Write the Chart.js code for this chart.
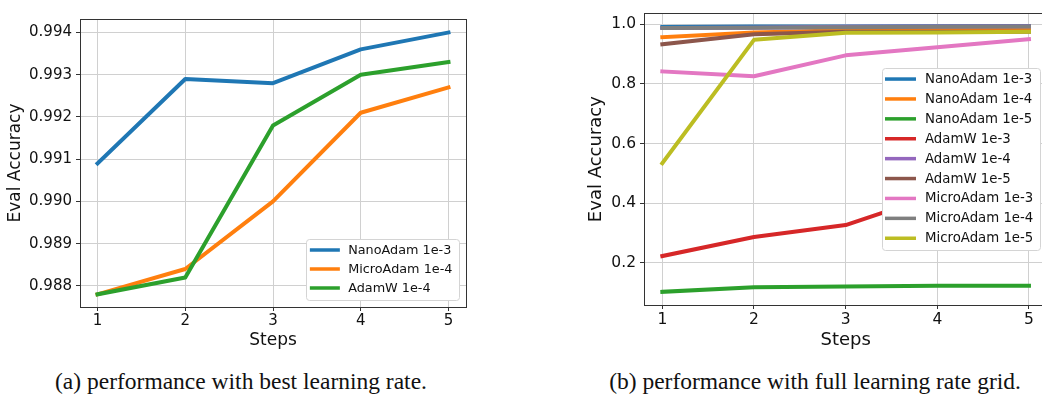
<!DOCTYPE html>
<html>
<head>
<meta charset="utf-8">
<script src="https://cdn.jsdelivr.net/npm/chart.js@4.4.1/dist/chart.umd.min.js"></script>
<style>
    html, body { margin: 0; padding: 0; background: #fff; }
    body { width: 1042px; height: 398px; overflow: hidden; position: relative; }
    canvas { position: absolute; top: 0; }
    #chartA { left: 0; }
    #chartB { left: 560px; }
    .caption {
        position: absolute; top: 370px; white-space: nowrap;
        font-family: "Liberation Serif", "Times New Roman", serif;
        font-size: 23.5px; line-height: 1; color: #111;
        transform: translateX(-50%);
    }
</style>
</head>
<body>
<canvas id="chartA" width="480" height="355"></canvas>
<canvas id="chartB" width="500" height="355"></canvas>
<div class="caption" style="left: 241px;">(a) performance with best learning rate.</div>
<div class="caption" style="left: 815px;">(b) performance with full learning rate grid.</div>
<script>
// data
var steps = [1, 2, 3, 4, 5];

// (a) best learning rate
var nanoBest  = [0.9909, 0.9929, 0.9928, 0.9936, 0.9940];
var microBest = [0.9878, 0.9884, 0.9900, 0.9921, 0.9927];
var adamwBest = [0.9878, 0.9882, 0.9918, 0.9930, 0.9933];
var ticksA = [0.988, 0.989, 0.990, 0.991, 0.992, 0.993, 0.994];

// (b) full grid
var nano1e3  = [0.9909, 0.9929, 0.9928, 0.9936, 0.9940];
var nano1e4  = [0.957, 0.973, 0.980, 0.981, 0.982];
var nano1e5  = [0.103, 0.118, 0.121, 0.123, 0.123];
var adamw1e3 = [0.223, 0.287, 0.327, 0.430, 0.500];
var adamw1e4 = [0.9878, 0.9882, 0.9918, 0.9930, 0.9933];
var adamw1e5 = [0.933, 0.967, 0.975, 0.975, 0.975];
var micro1e3 = [0.842, 0.826, 0.896, 0.923, 0.950];
var micro1e4 = [0.9878, 0.9884, 0.9900, 0.9921, 0.9927];
var micro1e5 = [0.534, 0.948, 0.972, 0.973, 0.975];
var ticksB = [0.2, 0.4, 0.6, 0.8, 1.0];

var tab = ['#1f77b4', '#ff7f0e', '#2ca02c', '#d62728', '#9467bd',
           '#8c564b', '#e377c2', '#7f7f7f', '#bcbd22'];

function series(label, values, color, i) {
    return {
        label: label,
        data: values.map(function (v, k) { return { x: steps[k], y: v }; }),
        borderColor: color,
        backgroundColor: color,
        borderWidth: 4,
        borderCapStyle: 'square',
        borderJoinStyle: 'round',
        pointRadius: 0,
        tension: 0,
        order: -i   // later series on top, like matplotlib
    };
}

// legend drawn inside the plot, matplotlib style
var insideLegend = {
    id: 'insideLegend',
    afterDatasetsDraw: function (chart, args, o) {
        var ctx = chart.ctx, area = chart.chartArea, sets = chart.data.datasets;
        ctx.save();
        // frame around the plot
        ctx.strokeStyle = '#333';
        ctx.lineWidth = 1;
        ctx.strokeRect(Math.round(area.left) + 0.5, Math.round(area.top) + 0.5,
                       Math.round(area.right - area.left), Math.round(area.bottom - area.top));

        ctx.font = o.fontSize + 'px "DejaVu Sans"';
        var textW = 0;
        sets.forEach(function (d) { textW = Math.max(textW, ctx.measureText(d.label).width); });
        var w = o.padL + o.handle + o.gap + textW + o.padR;
        var h = o.padT + o.rowH * (sets.length - 1) + o.padB;
        var x = area.right - o.margin - w;
        var y = o.loc === 'center' ? (area.top + area.bottom - h) / 2 : area.bottom - o.margin - h;
        ctx.fillStyle = '#fff';
        ctx.strokeStyle = '#d4d4d4';
        ctx.beginPath();
        ctx.roundRect(Math.round(x) + 0.5, Math.round(y) + 0.5, Math.round(w), Math.round(h), 3);
        ctx.fill();
        ctx.stroke();
        sets.forEach(function (d, i) {
            var cy = y + o.padT + i * o.rowH;
            ctx.strokeStyle = d.borderColor;
            ctx.lineWidth = o.lineW;
            ctx.beginPath();
            ctx.moveTo(x + o.padL, cy);
            ctx.lineTo(x + o.padL + o.handle, cy);
            ctx.stroke();
            ctx.fillStyle = '#111';
            ctx.textBaseline = 'middle';
            ctx.textAlign = 'left';
            ctx.fillText(d.label, x + o.padL + o.handle + o.gap, cy + 0.5);
        });
        ctx.restore();
    }
};

function makeOptions(s) {
    return {
        responsive: false,
        animation: false,
        devicePixelRatio: 1,
        layout: { padding: s.padding },
        plugins: {
            legend: { display: false },
            tooltip: { enabled: false },
            insideLegend: s.legend
        },
        scales: {
            x: {
                type: 'linear',
                min: 0.8, max: 5.2,
                afterBuildTicks: function (scale) {
                    scale.ticks = steps.map(function (v) { return { value: v }; });
                },
                afterFit: function (scale) { scale.height = s.xHeight; },
                grid: { color: '#d0d0d0', lineWidth: 1, tickLength: 4, tickColor: '#333' },
                border: { display: false },
                ticks: {
                    color: '#111', padding: s.xTickPad, maxRotation: 0,
                    font: { family: 'DejaVu Sans', size: s.tickSize },
                    callback: function (v) { return String(v); }
                },
                title: {
                    display: true, text: 'Steps', color: '#111',
                    font: { family: 'DejaVu Sans', size: s.titleSize },
                    padding: { top: 0, bottom: s.xTitlePad }
                }
            },
            y: {
                min: s.yMin, max: s.yMax,
                afterBuildTicks: function (scale) {
                    scale.ticks = s.yTicks.map(function (v) { return { value: v }; });
                },
                afterFit: function (scale) { scale.width = s.yWidth; },
                grid: { color: '#d0d0d0', lineWidth: 1, tickLength: 4, tickColor: '#333' },
                border: { display: false },
                ticks: {
                    color: '#111', padding: 4,
                    font: { family: 'DejaVu Sans', size: s.tickSize },
                    callback: function (v) { return v.toFixed(s.decimals); }
                },
                title: {
                    display: true, text: 'Eval Accuracy', color: '#111',
                    font: { family: 'DejaVu Sans', size: s.titleSize },
                    padding: { top: s.yTitlePad, bottom: 0 }
                }
            }
        }
    };
}

document.addEventListener('DOMContentLoaded', function () {
    var ctxA = document.getElementById('chartA').getContext('2d');
    new Chart(ctxA, {
        type: 'line',
        data: {
            datasets: [
                series('NanoAdam 1e-3', nanoBest, tab[0], 0),
                series('MicroAdam 1e-4', microBest, tab[1], 1),
                series('AdamW 1e-4', adamwBest, tab[2], 2)
            ]
        },
        options: makeOptions({
            padding: { left: 0, top: 19, right: 14, bottom: 0 },
            yMin: 0.98750, yMax: 0.99432, yTicks: ticksA, decimals: 3,
            yWidth: 80, xHeight: 48, tickSize: 15, titleSize: 17,
            xTickPad: 1.5, xTitlePad: 3.8, yTitlePad: 5.8,
            legend: { loc: 'lower', fontSize: 12.8, padL: 3.5, handle: 30, gap: 8.3, padR: 6.6,
                      padT: 11, padB: 12, rowH: 19, margin: 7, lineW: 3.5 }
        }),
        plugins: [insideLegend]
    });

    var ctxB = document.getElementById('chartB').getContext('2d');
    new Chart(ctxB, {
        type: 'line',
        data: {
            datasets: [
                series('NanoAdam 1e-3', nano1e3, tab[0], 0),
                series('NanoAdam 1e-4', nano1e4, tab[1], 1),
                series('NanoAdam 1e-5', nano1e5, tab[2], 2),
                series('AdamW 1e-3', adamw1e3, tab[3], 3),
                series('AdamW 1e-4', adamw1e4, tab[4], 4),
                series('AdamW 1e-5', adamw1e5, tab[5], 5),
                series('MicroAdam 1e-3', micro1e3, tab[6], 6),
                series('MicroAdam 1e-4', micro1e4, tab[7], 7),
                series('MicroAdam 1e-5', micro1e5, tab[8], 8)
            ]
        },
        options: makeOptions({
            padding: { left: 0, top: 5, right: 12.7, bottom: 0 },
            yMin: 0.0588, yMax: 1.037, yTicks: ticksB, decimals: 1,
            yWidth: 84, xHeight: 50, tickSize: 15.5, titleSize: 18,
            xTickPad: 1.5, xTitlePad: 3.5, yTitlePad: 25.9,
            legend: { loc: 'center', fontSize: 13.3, padL: 3, handle: 31, gap: 9, padR: 7,
                      padT: 10.7, padB: 11.7, rowH: 19.9, margin: 7, lineW: 3.5 }
        }),
        plugins: [insideLegend]
    });
});
</script>
</body>
</html>
